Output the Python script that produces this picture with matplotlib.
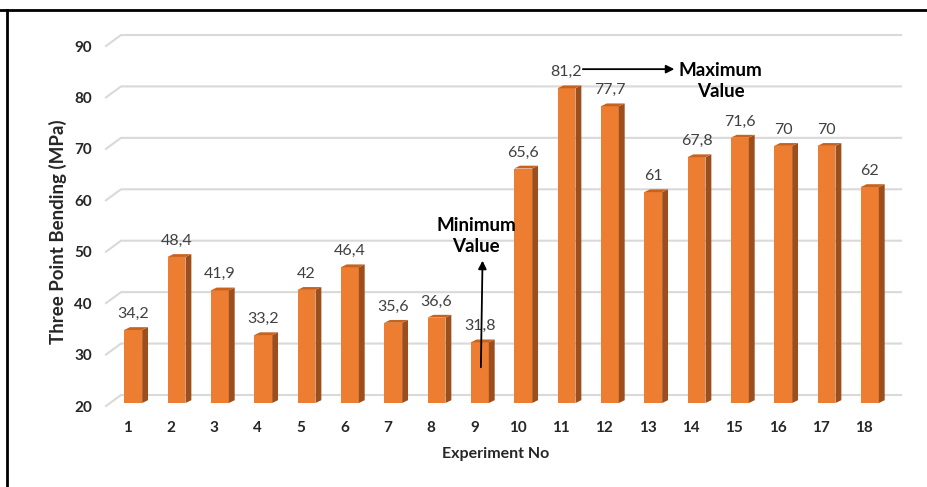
import numpy as np
import matplotlib.pyplot as plt
from matplotlib.patches import Polygon
from matplotlib.lines import Line2D

plt.rcParams['font.family'] = ['Lato', 'DejaVu Sans']

experiments = list(range(1, 19))
bending = [34.2, 48.4, 41.9, 33.2, 42, 46.4, 35.6, 36.6, 31.8,
           65.6, 81.2, 77.7, 61, 67.8, 71.6, 70, 70, 62]
yticks = [20, 30, 40, 50, 60, 70, 80, 90]

front_col = '#ED7D31'
side_col = '#9C4E1D'
top_col = '#C8621F'
grid_col = '#D9D9D9'

# fake 3d offsets (data units)
wall_dx, wall_dy = 0.346, 2.14     # back wall
bar_dx, bar_dy = 0.127, 0.58       # bar front shift
dep_dx, dep_dy = 0.135, 0.55       # bar depth
bw = 0.415
base = 20

fig = plt.figure(figsize=(9.27, 4.87), dpi=100)
ax = fig.add_axes([106 / 927, 81 / 487, 780 / 927, 360 / 487])
ax.set_xlim(0.5, 18.5)
ax.set_ylim(20, 90)
for s in ax.spines.values():
    s.set_visible(False)

# gridlines on back wall + diagonal on side
for t in yticks:
    ax.plot([0.5, 0.5 + wall_dx, 18.5 + wall_dx], [t, t + wall_dy, t + wall_dy],
            color=grid_col, lw=1.5, clip_on=False, zorder=1)

xs = np.array(experiments) + bar_dx
ax.bar(xs, np.array(bending) - base, bottom=base + bar_dy, width=bw,
       color=front_col, zorder=3, linewidth=0)
for x, v in zip(xs, bending):
    r = x + bw / 2
    l = x - bw / 2
    top = v + bar_dy
    side = Polygon([[r, base + bar_dy], [r + dep_dx, base + bar_dy + dep_dy],
                    [r + dep_dx, top + dep_dy], [r, top]],
                   closed=True, fc=side_col, ec='none', zorder=3)
    tp = Polygon([[l, top], [l + dep_dx, top + dep_dy],
                  [r + dep_dx, top + dep_dy], [r, top]],
                 closed=True, fc=top_col, ec='none', zorder=3)
    ax.add_patch(side)
    ax.add_patch(tp)
    ax.annotate(str(v).replace('.', ','), (x, top + dep_dy), xytext=(0, 4.5),
                textcoords='offset points', ha='center', va='bottom',
                fontsize=11.5, color='#404040', zorder=5)

ax.set_yticks(yticks)
ax.set_yticklabels([str(t) for t in yticks], fontweight='bold', fontsize=11, color='#262626')
ax.set_xticks(experiments)
ax.set_xticklabels([str(e) for e in experiments], fontweight='bold', fontsize=11, color='#262626')
ax.tick_params(axis='y', length=0, pad=10)
ax.tick_params(axis='x', length=0, pad=10.5)

ax.set_xlabel('Experiment No', fontweight='bold', fontsize=11.5, color='#262626', labelpad=9)
fig.text(58 / 927, 1 - 232 / 487, 'Three Point Bending (MPa)', rotation=90,
         ha='center', va='center', fontweight='bold', fontsize=13.5, color='#262626')

# annotations
ax.annotate('', xy=(9.19, 48.8), xytext=(9.15, 27.0),
            arrowprops=dict(arrowstyle='-|>', color='black', lw=1.3, mutation_scale=12),
            zorder=6, annotation_clip=False)
ax.text(9.04, 53.05, 'Minimum\nValue', ha='center', va='center', fontweight='bold',
        fontsize=13.5, linespacing=1.3, zorder=6)
ax.annotate('', xy=(13.68, 85.5), xytext=(11.44, 85.5),
            arrowprops=dict(arrowstyle='-|>', color='black', lw=1.3, mutation_scale=12),
            zorder=6, annotation_clip=False)
ax.text(14.68, 83.2, 'Maximum\nValue', ha='center', va='center', fontweight='bold',
        fontsize=13.5, linespacing=1.3, zorder=6)

# outer frame (top and left edge visible)
fig.add_artist(Line2D([0, 1], [1 - 10 / 487] * 2, transform=fig.transFigure,
                      color='black', lw=2))
fig.add_artist(Line2D([7 / 927] * 2, [0, 1 - 10 / 487], transform=fig.transFigure,
                      color='black', lw=2))

fig.savefig('out.png', dpi=100)
